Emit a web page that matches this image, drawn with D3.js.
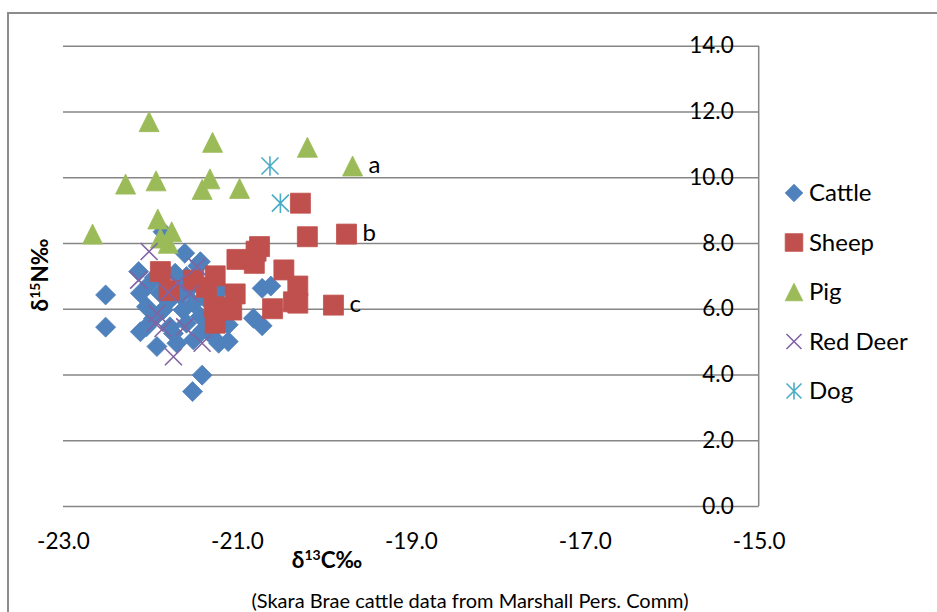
<!DOCTYPE html>
<html>
<head>
<meta charset="utf-8">
<script src="https://cdn.jsdelivr.net/npm/d3@7"></script>
<style>
  body { margin: 0; background: #fff; }
  svg { font-family: Lato, "Open Sans", sans-serif; }
</style>
</head>
<body>
<svg width="937" height="612"></svg>
<script>
// isotope values: [d13C, d15N]
var cattle = [[-22.51,6.42],[-22.51,5.44],[-22.13,7.13],[-22.11,6.47],[-21.60,7.69],[-21.42,7.43],[-21.71,7.08],
  [-22.00,6.77],[-22.04,6.06],[-22.11,5.30],[-21.92,4.85],[-21.69,4.95],[-21.50,5.05],[-21.21,4.95],[-21.10,5.00],
  [-21.40,3.98],[-21.51,3.48],[-20.71,6.62],[-20.61,6.69],[-20.81,5.71],[-20.71,5.48],[-21.19,6.57],[-21.10,5.51],
  [-21.77,6.27],[-21.85,5.96],[-21.62,5.96],[-21.50,6.17],[-21.42,5.76],[-21.58,5.56],[-21.77,5.45],[-22.04,5.45],
  [-21.31,5.25],[-21.69,6.67],[-21.88,6.47],[-21.73,5.25],[-21.85,8.34],[-21.35,6.27],[-21.58,6.98],[-21.39,5.35],
  [-21.96,5.70],[-21.65,6.40],[-21.30,5.80],[-21.20,6.20],[-21.55,6.60],[-21.45,7.30],[-21.95,6.95]];
var sheep = [[-20.27,9.21],[-20.19,8.19],[-19.74,8.27],[-20.74,7.89],[-20.80,7.38],[-21.00,7.50],[-21.88,7.13],
  [-20.46,7.18],[-21.50,6.87],[-21.25,7.00],[-21.35,6.65],[-21.78,6.55],[-21.02,6.45],[-20.30,6.69],[-20.35,6.21],
  [-20.30,6.17],[-20.59,6.00],[-19.89,6.11],[-21.26,6.06],[-21.06,5.96],[-21.25,5.56],[-20.78,7.75]];
var pig = [[-22.01,11.69],[-21.28,11.06],[-20.19,10.91],[-19.67,10.34],[-22.28,9.79],[-21.93,9.89],[-21.31,9.95],
  [-21.40,9.63],[-20.97,9.66],[-21.91,8.73],[-22.66,8.27],[-21.75,8.34],[-21.79,7.99],[-21.88,8.15]];
var redDeer = [[-22.01,7.74],[-22.13,6.87],[-21.79,6.49],[-21.46,7.28],[-21.54,6.47],[-21.92,5.86],[-21.94,5.56],
  [-21.85,5.40],[-21.60,5.45],[-21.40,4.95],[-21.73,4.54],[-21.68,6.78]];
var dog = [[-20.62,10.34],[-20.50,9.21]];

var seriesNames = ["Cattle", "Sheep", "Pig", "Red Deer", "Dog"];
var seriesColors = ["#4F81BD", "#C0504D", "#9BBB59", "#8064A2", "#4BACC6"];
var seriesShapes = ["diamond", "square", "triangle", "cross", "star"];
var xTicks = [-23, -21, -19, -17, -15];
var yTicks = [0, 2, 4, 6, 8, 10, 12, 14];
var pointLabels = [{text: "a", x: -19.67, y: 10.34}, {text: "b", x: -19.74, y: 8.27}, {text: "c", x: -19.89, y: 6.11}];

var svg = d3.select("svg");
var plotLeft = 63, plotRight = 758.7, plotTop = 45.7, plotBottom = 506;

var x = d3.scaleLinear().domain([-23, -15]).range([plotLeft, plotRight]);
var y = d3.scaleLinear().domain([0, 14]).range([plotBottom, plotTop]);

// chart border
svg.append("rect")
  .attr("x", 8).attr("y", 13)
  .attr("width", 1000).attr("height", 700)
  .attr("fill", "none")
  .attr("stroke", "#8c8c8c")
  .attr("stroke-width", 2);

// gridlines
svg.append("g")
  .attr("class", "grid")
  .attr("transform", "translate(" + plotLeft + ",0)")
  .call(d3.axisLeft(y).tickValues(yTicks).tickSize(-(plotRight - plotLeft)).tickFormat(""))
  .call(function(g) { g.select(".domain").remove(); })
  .selectAll("line")
  .attr("stroke", "#868686")
  .attr("stroke-width", 1.5);

// vertical axis crosses at -15
svg.append("line")
  .attr("x1", plotRight).attr("x2", plotRight)
  .attr("y1", plotTop).attr("y2", plotBottom)
  .attr("stroke", "#868686")
  .attr("stroke-width", 1.5);

var yAxis = svg.append("g")
  .attr("class", "axis axis--y")
  .attr("transform", "translate(" + plotRight + ",0)")
  .call(d3.axisLeft(y).tickValues(yTicks).tickSize(0).tickPadding(25).tickFormat(function(d) { return d.toFixed(1); }));
yAxis.select(".domain").remove();
yAxis.selectAll("text").attr("font-size", 22.5).attr("fill", "#000").attr("font-family", "Lato");

var xAxis = svg.append("g")
  .attr("class", "axis axis--x")
  .attr("transform", "translate(0," + plotBottom + ")")
  .call(d3.axisBottom(x).tickValues(xTicks).tickSize(0).tickPadding(27).tickFormat(function(d) { return d.toFixed(1); }));
xAxis.select(".domain").remove();
xAxis.selectAll("text").attr("font-size", 22.5).attr("fill", "#000").attr("font-family", "Lato");

// marker shapes
function markerPath(shape, s) {
  var r = 10 * s;
  if (shape == "diamond") return "M0," + (-r) + "L" + r + ",0L0," + r + "L" + (-r) + ",0Z";
  if (shape == "square") return "M" + (-r) + "," + (-r) + "h" + (2*r) + "v" + (2*r) + "h" + (-2*r) + "Z";
  if (shape == "triangle") return "M0," + (-r) + "L" + r + "," + r + "L" + (-r) + "," + r + "Z";
  var c = 8.5 * s;
  var p = "M" + (-c) + "," + (-c) + "L" + c + "," + c + "M" + (-c) + "," + c + "L" + c + "," + (-c);
  if (shape == "star") p += "M0," + (-c*1.15) + "L0," + (c*1.15);
  return p;
}

function drawSeries(data, i) {
  var shape = seriesShapes[i], color = seriesColors[i];
  var lineShape = (shape == "cross" || shape == "star");
  svg.append("g")
    .attr("class", "series")
    .selectAll("path")
    .data(data).enter()
    .append("path")
    .attr("transform", function(d) { return "translate(" + x(d[0]) + "," + y(d[1]) + ")"; })
    .attr("d", markerPath(shape, 1))
    .attr("fill", lineShape ? "none" : color)
    .attr("stroke", color)
    .attr("stroke-width", lineShape ? 1.6 : 0.8);
}

[cattle, sheep, pig, redDeer, dog].forEach(drawSeries);

svg.selectAll(".ptlabel")
  .data(pointLabels).enter()
  .append("text")
  .attr("class", "ptlabel")
  .attr("x", function(d) { return x(d.x) + 16; })
  .attr("y", function(d) { return y(d.y); })
  .attr("dy", "0.3em")
  .attr("font-size", 24)
  .text(function(d) { return d.text; });

// legend
var legend = svg.append("g").attr("class", "legend");
seriesNames.forEach(function(name, i) {
  var ly = 193 + i * 49.5;
  var lineShape = (seriesShapes[i] == "cross" || seriesShapes[i] == "star");
  legend.append("path")
    .attr("transform", "translate(794," + ly + ")")
    .attr("d", markerPath(seriesShapes[i], 0.88))
    .attr("fill", lineShape ? "none" : seriesColors[i])
    .attr("stroke", seriesColors[i])
    .attr("stroke-width", lineShape ? 1.6 : 0.8);
  legend.append("text")
    .attr("x", 809)
    .attr("y", ly)
    .attr("dy", "0.35em")
    .attr("font-size", 24)
    .text(name);
});

// axis titles
var xt = svg.append("text")
  .attr("x", 327).attr("y", 568)
  .attr("text-anchor", "middle")
  .attr("font-size", 22.5)
  .attr("font-weight", "bold");
xt.append("tspan").text("δ");
xt.append("tspan").attr("baseline-shift", "super").attr("font-size", 14).text("13");
xt.append("tspan").text("C‰");

var yt = svg.append("text")
  .attr("transform", "translate(48,275) rotate(-90)")
  .attr("text-anchor", "middle")
  .attr("font-size", 22.5)
  .attr("font-weight", "bold");
yt.append("tspan").text("δ");
yt.append("tspan").attr("baseline-shift", "super").attr("font-size", 14).text("15");
yt.append("tspan").text("N‰");

svg.append("text")
  .attr("x", 470).attr("y", 608)
  .attr("text-anchor", "middle")
  .attr("font-size", 20)
  .text("(Skara Brae cattle data from Marshall Pers. Comm)");
</script>
</body>
</html>
